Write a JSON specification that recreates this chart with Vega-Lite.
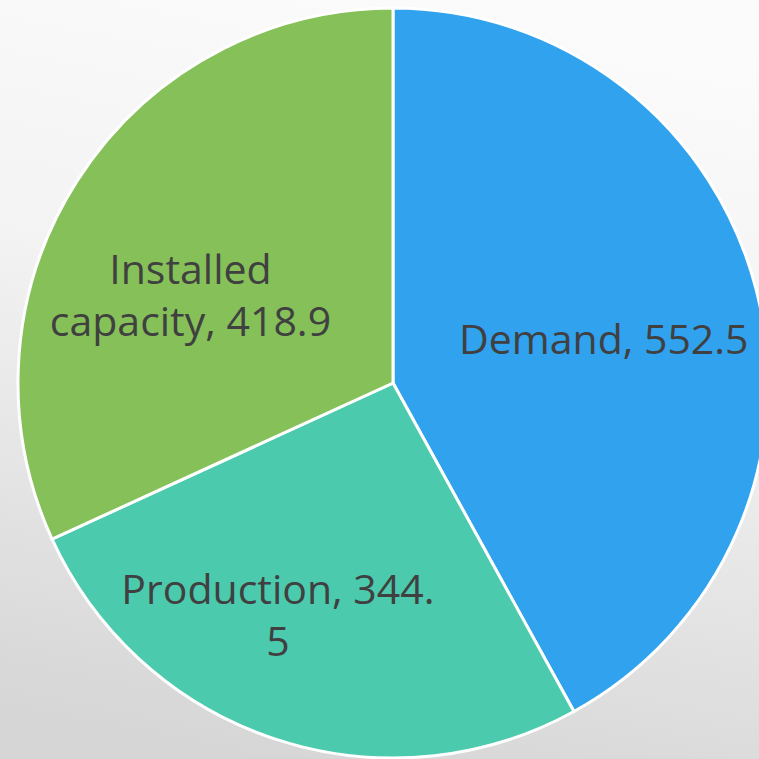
{
  "$schema": "https://vega.github.io/schema/vega-lite/v6.json",
  "width": 786,
  "height": 766,
  "autosize": {"type": "none"},
  "padding": {"left": 0, "top": 0, "right": -27, "bottom": -7},
  "background": "#f4f4f4",
  "config": {"view": {"stroke": null}},
  "datasets": {
    "slices": [
      {"rank": 1, "cat": "Demand", "value": 552.5, "label": "Demand, 552.5"},
      {"rank": 2, "cat": "Production", "value": 344.5, "label": "Production, 344.\n5"},
      {"rank": 3, "cat": "Installed capacity", "value": 418.9, "label": "Installed\ncapacity, 418.9"}
    ]
  },
  "layer": [
    {
      "data": {"values": [{"bg": 1}]},
      "mark": {
        "type": "rect",
        "fill": {
          "gradient": "linear",
          "x1": 0.6, "y1": 0, "x2": 0.4, "y2": 1,
          "stops": [
            {"offset": 0, "color": "#fbfbfb"},
            {"offset": 0.4, "color": "#f3f3f3"},
            {"offset": 1, "color": "#d6d6d6"}
          ]
        }
      },
      "encoding": {}
    },
    {
      "data": {"name": "slices"},
      "layer": [
        {
          "mark": {"type": "arc", "outerRadius": 375, "stroke": "#ffffff", "strokeWidth": 3},
          "encoding": {
            "theta": {"field": "value", "type": "quantitative", "stack": true},
            "order": {"field": "rank", "type": "quantitative"},
            "color": {
              "field": "cat",
              "type": "nominal",
              "scale": {
                "domain": ["Demand", "Production", "Installed capacity"],
                "range": ["#30a2ee", "#4bcaad", "#85c059"]
              },
              "legend": null
            }
          }
        },
        {
          "mark": {"type": "text", "radius": 230, "dx": -12, "dy": 16, "font": "Open Sans", "fontSize": 41, "color": "#404040", "lineBreak": "\n", "lineHeight": 52, "align": "center", "baseline": "middle"},
          "encoding": {
            "theta": {"field": "value", "type": "quantitative", "stack": true},
            "order": {"field": "rank", "type": "quantitative"},
            "detail": {"field": "cat", "type": "nominal"},
            "text": {"condition": {"test": "datum.cat === 'Demand'", "field": "label"}, "value": ""}
          }
        },
        {
          "mark": {"type": "text", "radius": 230, "dx": -43, "dy": -9, "font": "Open Sans", "fontSize": 41, "color": "#404040", "lineBreak": "\n", "lineHeight": 52, "align": "center", "baseline": "middle"},
          "encoding": {
            "theta": {"field": "value", "type": "quantitative", "stack": true},
            "order": {"field": "rank", "type": "quantitative"},
            "detail": {"field": "cat", "type": "nominal"},
            "text": {"condition": {"test": "datum.cat === 'Production'", "field": "label"}, "value": ""}
          }
        },
        {
          "mark": {"type": "text", "radius": 230, "dx": -9, "dy": 13, "font": "Open Sans", "fontSize": 41, "color": "#404040", "lineBreak": "\n", "lineHeight": 52, "align": "center", "baseline": "middle"},
          "encoding": {
            "theta": {"field": "value", "type": "quantitative", "stack": true},
            "order": {"field": "rank", "type": "quantitative"},
            "detail": {"field": "cat", "type": "nominal"},
            "text": {"condition": {"test": "datum.cat === 'Installed capacity'", "field": "label"}, "value": ""}
          }
        }
      ]
    }
  ]
}
